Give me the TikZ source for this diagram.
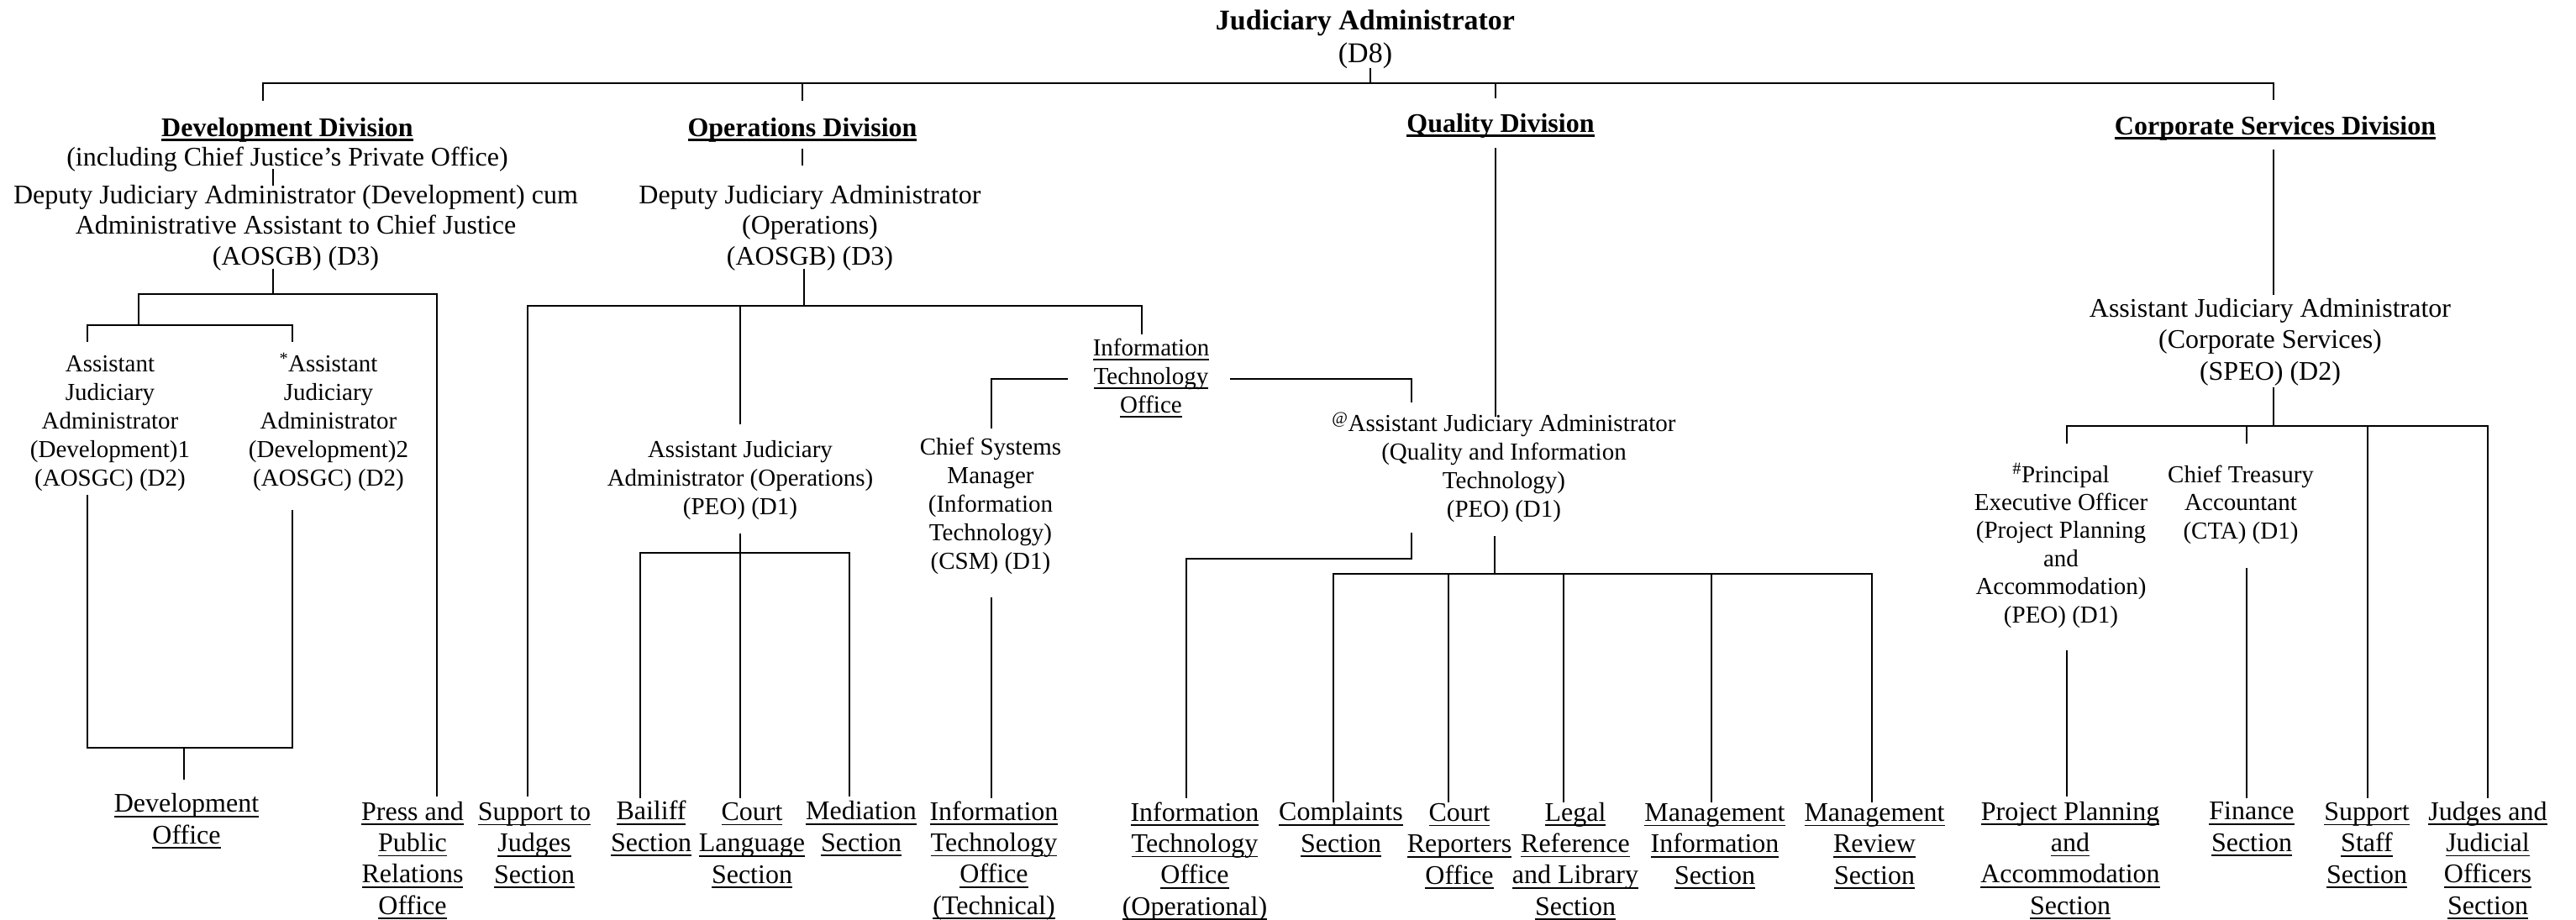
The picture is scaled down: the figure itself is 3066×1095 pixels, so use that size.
\documentclass[tikz,border=0pt]{standalone}
\usepackage{fontspec}
\setmainfont{Liberation Serif}
\newcommand\uln[1]{\setbox0\hbox{#1}\rlap{\rule[-0.19em]{\wd0}{0.06em}}\box0}
\newcommand\ulb[1]{\setbox0\hbox{#1}\rlap{\rule[-0.2em]{\wd0}{0.1em}}\box0}
\begin{document}
\begin{tikzpicture}[x=1pt,y=-1pt,
  lbl/.style={inner sep=0pt, align=center, anchor=base, font=\fontsize{32}{37.3}\selectfont},
  sml/.style={inner sep=0pt, align=center, anchor=base, font=\fontsize{29}{33.8}\selectfont},
  ttl/.style={inner sep=0pt, align=center, anchor=base, font=\fontsize{34}{39}\selectfont},
  conn/.style={line width=2.2pt}]
\useasboundingbox (0,0) rectangle (3066,1095);
% nodes are placed at the baseline of their last line
% top
\node[ttl] (ja) at (1625,74) {\textbf{Judiciary Administrator}\\(D8)};
% development division
\node[lbl, font=\fontsize{32}{35}\selectfont] (devdiv) at (342,197) {\ulb{\textbf{Development Division}}\\(including Chief Justice’s Private Office)};
\node[lbl, font=\fontsize{32}{36.5}\selectfont] (djadev) at (352,315) {Deputy Judiciary Administrator (Development) cum\\Administrative Assistant to Chief Justice\\(AOSGB) (D3)};
\node[sml] (aja1) at (131,578) {Assistant\\Judiciary\\Administrator\\(Development)1\\(AOSGC) (D2)};
\node[sml] (aja2) at (391,578) {\textsuperscript{*}Assistant\\Judiciary\\Administrator\\(Development)2\\(AOSGC) (D2)};
\node[lbl] (devoff) at (222,1004) {\uln{Development}\\\uln{Office}};
\node[lbl] (press) at (491,1088) {\uln{Press and}\\\uln{Public}\\\uln{Relations}\\\uln{Office}};
% operations division
\node[lbl] (opsdiv) at (955,162) {\ulb{\textbf{Operations Division}}};
\node[lbl, font=\fontsize{32}{36.5}\selectfont] (djaops) at (964,315) {Deputy Judiciary Administrator\\(Operations)\\(AOSGB) (D3)};
\node[lbl] (supj) at (636,1051) {\uln{Support to}\\\uln{Judges}\\\uln{Section}};
\node[sml] (ajaops) at (881,612) {Assistant Judiciary\\Administrator (Operations)\\(PEO) (D1)};
\node[lbl] (bailiff) at (775,1013) {\uln{Bailiff}\\\uln{Section}};
\node[lbl] (courtlang) at (895,1051) {\uln{Court}\\\uln{Language}\\\uln{Section}};
\node[lbl] (mediation) at (1025,1013) {\uln{Mediation}\\\uln{Section}};
\node[sml] (itoff) at (1370,491) {\uln{Information}\\\uln{Technology}\\\uln{Office}};
\node[sml] (csm) at (1179,677) {Chief Systems\\Manager\\(Information\\Technology)\\(CSM) (D1)};
\node[lbl] (itotech) at (1183,1088) {\uln{Information}\\\uln{Technology}\\\uln{Office}\\\uln{(Technical)}};
% quality division
\node[lbl] (qualdiv) at (1786,157) {\ulb{\textbf{Quality Division}}};
\node[sml] (ajaqit) at (1790,615) {\textsuperscript{@}Assistant Judiciary Administrator\\(Quality and Information\\Technology)\\(PEO) (D1)};
\node[lbl] (itoop) at (1422,1089) {\uln{Information}\\\uln{Technology}\\\uln{Office}\\\uln{(Operational)}};
\node[lbl] (complaints) at (1596,1014) {\uln{Complaints}\\\uln{Section}};
\node[lbl] (courtrep) at (1737,1052) {\uln{Court}\\\uln{Reporters}\\\uln{Office}};
\node[lbl] (legal) at (1875,1089) {\uln{Legal}\\\uln{Reference}\\\uln{and Library}\\\uln{Section}};
\node[lbl] (mis) at (2041,1052) {\uln{Management}\\\uln{Information}\\\uln{Section}};
\node[lbl] (mrs) at (2231,1052) {\uln{Management}\\\uln{Review}\\\uln{Section}};
% corporate services division
\node[lbl] (corpdiv) at (2708,160) {\ulb{\textbf{Corporate Services Division}}};
\node[lbl, font=\fontsize{32}{37.5}\selectfont] (ajacs) at (2702,452) {Assistant Judiciary Administrator\\(Corporate Services)\\(SPEO) (D2)};
\node[sml, font=\fontsize{29}{33.4}\selectfont] (peo) at (2453,741) {\textsuperscript{\#}Principal\\Executive Officer\\(Project Planning\\and\\Accommodation)\\(PEO) (D1)};
\node[sml, font=\fontsize{29}{33.4}\selectfont] (cta) at (2667,641) {Chief Treasury\\Accountant\\(CTA) (D1)};
\node[lbl] (ppa) at (2464,1088) {\uln{Project Planning}\\\uln{and}\\\uln{Accommodation}\\\uln{Section}};
\node[lbl] (finance) at (2680,1013) {\uln{Finance}\\\uln{Section}};
\node[lbl] (sstaff) at (2817,1051) {\uln{Support}\\\uln{Staff}\\\uln{Section}};
\node[lbl] (judges) at (2961,1088) {\uln{Judges and}\\\uln{Judicial}\\\uln{Officers}\\\uln{Section}};
% connectors: top
\draw[conn] (ja.south -| 1631,0) -- (1631,99);
\draw[conn] (313,120) -- (313,99) -- (2706,99) -- (2706,119);
\draw[conn] (955,99) -- (955,120);
\draw[conn] (1780,99) -- (1780,117);
% development
\draw[conn] (325,201) -- (325,221);
\draw[conn] (325,320) -- (325,350);
\draw[conn] (165,387) -- (165,350) -- (520,350) -- (520,948);
\draw[conn] (104,407) -- (104,387) -- (348,387) -- (348,407);
\draw[conn] (104,589) -- (104,890) -- (348,890) -- (348,607);
\draw[conn] (219,890) -- (219,928);
% operations
\draw[conn] (955,177) -- (955,197);
\draw[conn] (957,320) -- (957,364);
\draw[conn] (628,948) -- (628,364) -- (1359,364) -- (1359,398);
\draw[conn] (881,364) -- (881,505);
\draw[conn] (881,635) -- (881,950);
\draw[conn] (762,950) -- (762,658) -- (1011,658) -- (1011,948);
\draw[conn] (1271,451) -- (1180,451) -- (1180,510);
\draw[conn] (1464,451) -- (1680,451) -- (1680,479);
\draw[conn] (1180,711) -- (1180,950);
% quality
\draw[conn] (1780,176) -- (1780,496);
\draw[conn] (1680,634) -- (1680,665) -- (1412,665) -- (1412,950);
\draw[conn] (1779,638) -- (1779,683);
\draw[conn] (1587,955) -- (1587,683) -- (2228,683) -- (2228,955);
\draw[conn] (1724,683) -- (1724,955);
\draw[conn] (1861,683) -- (1861,955);
\draw[conn] (2037,683) -- (2037,955);
% corporate
\draw[conn] (2706,178) -- (2706,351);
\draw[conn] (2706,461) -- (2706,507);
\draw[conn] (2460,528) -- (2460,507) -- (2961,507) -- (2961,950);
\draw[conn] (2674,507) -- (2674,528);
\draw[conn] (2818,507) -- (2818,950);
\draw[conn] (2674,676) -- (2674,950);
\draw[conn] (2460,774) -- (2460,948);
\end{tikzpicture}
\end{document}
